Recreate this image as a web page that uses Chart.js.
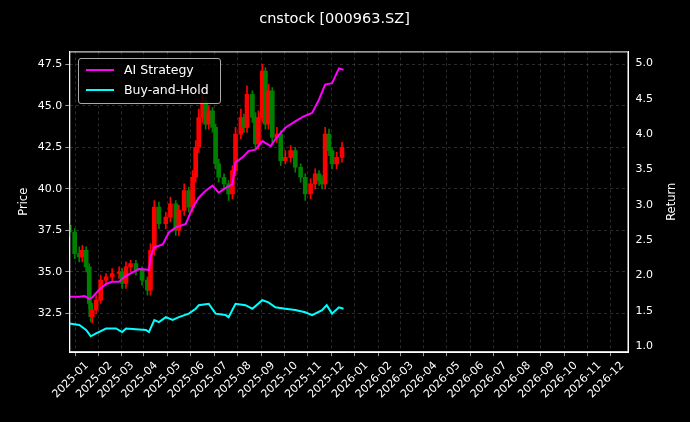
<!DOCTYPE html>
<html>
<head>
<meta charset="utf-8">
<script src="https://cdn.jsdelivr.net/npm/chart.js@4.4.0/dist/chart.umd.min.js"></script>
<style>
  html, body { margin: 0; padding: 0; background: #000; }
  #wrap { position: relative; width: 690px; height: 422px; }
  #legend {
    position: absolute; left: 78px; top: 58px; width: 143px; height: 46px;
    border: 1px solid #aaa; border-radius: 3px; background: rgba(0,0,0,0.8);
    font: 12.5px "DejaVu Sans", sans-serif; color: #fff; box-sizing: border-box;
  }
  .item { position: absolute; left: 7px; display: flex; align-items: center; }
  .item span { display: inline-block; width: 28px; height: 2px; margin-right: 10px; }
</style>
</head>
<body>
<div id="wrap">
  <canvas id="c" width="690" height="422"></canvas>
  <div id="legend">
    <div class="item" style="top:3px"><span style="background:#ff00ff"></span>AI Strategy</div>
    <div class="item" style="top:23px"><span style="background:#00ffff"></span>Buy-and-Hold</div>
  </div>
</div>
<script>
// days counted from 2024-12-09
const candleDays = [0,7,13,17,22,26,28,30,35,41,48,56,65,69,74,80,87,95,102,106,111,117,126,132,139,143,150,156,161,165,169,174,178,182,187,191,195,202,208,213,217,224,228,232,239,243,247,252,256,260,265,271,276,282,289,295,302,308,315,321,326,330,334,339,343,349,356];
const opens = [37.8,37.4,36.1,35.9,36.3,35.3,33.1,32.3,32.7,33.3,34.5,34.7,34.9,35.0,34.3,35.3,35.5,35.1,34.5,33.9,36.3,38.9,37.9,38.3,39.1,37.5,38.7,39.9,38.9,40.7,42.5,44.3,45.3,43.9,44.7,43.7,41.5,40.7,40.3,39.7,41.1,43.3,44.3,43.7,45.7,44.3,42.7,44.3,47.1,43.9,45.9,43.1,43.3,41.7,41.9,42.3,41.3,40.7,39.7,40.3,40.9,40.5,40.3,43.3,42.3,41.5,41.9];
const highs = [37.9,37.6,36.5,36.6,36.5,35.5,33.4,32.9,33.6,34.8,34.9,35.2,35.3,35.2,35.6,35.7,35.7,35.3,34.7,36.7,39.3,39.2,38.6,39.5,39.3,39.0,40.3,40.1,41.1,42.9,44.8,45.9,45.5,45.0,44.9,43.9,41.8,40.9,40.5,41.4,43.7,44.8,44.5,46.2,45.9,44.6,44.7,47.5,47.3,46.3,46.1,43.7,43.5,42.3,42.6,42.5,41.5,40.9,40.6,41.2,41.1,40.8,43.7,43.6,42.5,42.2,42.8];
const lows = [37.1,35.8,35.6,35.6,35.0,32.8,32.0,31.9,32.5,33.1,34.2,34.4,34.6,34.0,34.0,35.0,34.8,34.2,33.6,33.6,36.0,37.6,37.6,38.0,37.2,37.2,38.4,38.6,38.6,40.4,42.2,44.0,43.6,43.6,43.4,41.2,40.4,40.0,39.3,39.4,40.8,43.0,43.4,43.4,44.0,42.4,42.4,44.0,43.6,43.6,42.8,42.8,41.4,41.5,41.6,41.0,40.4,39.3,39.4,40.0,40.2,40.0,40.0,42.0,41.2,41.2,41.6];
const closes = [37.4,36.1,35.9,36.3,35.3,33.1,32.3,32.7,33.3,34.5,34.7,34.9,35.0,34.3,35.3,35.5,35.1,34.5,33.9,36.3,38.9,37.9,38.3,39.1,37.5,38.7,39.9,38.9,40.7,42.5,44.3,45.3,43.9,44.7,43.7,41.5,40.7,40.3,39.7,41.1,43.3,44.3,43.7,45.7,44.3,42.7,44.3,47.1,43.9,45.9,43.1,43.3,41.7,41.9,42.3,41.3,40.7,39.7,40.3,40.9,40.5,40.3,43.3,42.3,41.5,41.9,42.5];

const aiDays = [0,13,20,26,30,39,48,56,65,72,80,91,104,106,111,122,130,139,152,161,169,178,187,195,204,213,217,226,234,243,252,263,269,282,295,306,317,326,334,343,352,358];
const aiReturn = [1.70,1.70,1.71,1.67,1.69,1.80,1.88,1.91,1.91,1.98,2.03,2.09,2.08,2.26,2.40,2.44,2.61,2.68,2.73,2.96,3.10,3.20,3.27,3.17,3.24,3.29,3.60,3.67,3.76,3.78,3.90,3.83,3.93,4.09,4.18,4.25,4.30,4.49,4.70,4.72,4.93,4.91];

const bhDays = [0,13,22,28,35,48,61,69,74,87,100,104,111,117,126,135,143,156,165,169,182,191,204,208,217,230,239,252,260,269,282,295,308,317,330,336,343,352,358];
const bhReturn = [1.32,1.30,1.23,1.14,1.18,1.25,1.25,1.20,1.25,1.24,1.23,1.20,1.37,1.34,1.41,1.37,1.41,1.46,1.53,1.58,1.60,1.46,1.44,1.41,1.60,1.58,1.53,1.65,1.62,1.55,1.53,1.51,1.48,1.44,1.51,1.58,1.46,1.55,1.53];

const priceTicks = [32.5, 35.0, 37.5, 40.0, 42.5, 45.0, 47.5];
const returnTicks = [1.0, 1.5, 2.0, 2.5, 3.0, 3.5, 4.0, 4.5, 5.0];

const DAY = 86400000;
const base = Date.UTC(2024, 11, 9);
const t = d => base + d * DAY;

const monthTicks = [];
for (let m = 0; m < 24; m++) monthTicks.push(Date.UTC(2025 + Math.floor(m / 12), m % 12, 1));

const upColor = '#ff0000', downColor = '#008000';
const candleColors = closes.map((c, i) => c >= opens[i] ? upColor : downColor);

Chart.defaults.font.family = '"DejaVu Sans", sans-serif';
Chart.defaults.color = '#fff';

const gridStyle = { color: 'rgba(128,128,128,0.55)', lineWidth: 0.6, tickColor: '#fff', tickLength: 4, drawTicks: true };

new Chart(document.getElementById('c'), {
  type: 'bar',
  data: {
    datasets: [{
      type: 'line', label: 'AI Strategy', yAxisID: 'y2', order: 0,
      data: aiDays.map((d, i) => ({ x: t(d), y: aiReturn[i] })),
      borderColor: '#ff00ff', borderWidth: 2, pointRadius: 0, tension: 0
    }, {
      type: 'line', label: 'Buy-and-Hold', yAxisID: 'y2', order: 0,
      data: bhDays.map((d, i) => ({ x: t(d), y: bhReturn[i] })),
      borderColor: '#00ffff', borderWidth: 2, pointRadius: 0, tension: 0
    }, {
      label: 'wick', yAxisID: 'y', order: 2, grouped: false,
      data: candleDays.map((d, i) => ({ x: t(d), y: [lows[i], highs[i]] })),
      backgroundColor: candleColors, barThickness: 1
    }, {
      label: 'body', yAxisID: 'y', order: 1, grouped: false,
      data: candleDays.map((d, i) => ({ x: t(d), y: [opens[i], closes[i]] })),
      backgroundColor: candleColors, barThickness: 4, minBarLength: 1
    }]
  },
  options: {
    responsive: false,
    animation: false,
    layout: { padding: { left: 13, right: 34, top: 11, bottom: 18 } },
    plugins: {
      legend: { display: false },
      tooltip: { enabled: false },
      title: { display: true, text: 'cnstock [000963.SZ]', font: { size: 14.5, weight: 'normal' }, padding: { top: 0, bottom: 23 } }
    },
    scales: {
      x: {
        type: 'linear', offset: false,
        min: base, max: Date.UTC(2026, 11, 9),
        afterBuildTicks: ax => { ax.ticks = monthTicks.map(v => ({ value: v })); },
        ticks: {
          minRotation: 45, maxRotation: 45, font: { size: 11 },
          callback: v => { const d = new Date(v); return d.getUTCFullYear() + '-' + String(d.getUTCMonth() + 1).padStart(2, '0'); }
        },
        grid: gridStyle, border: { color: '#fff', width: 1, dash: [3, 3] }
      },
      y: {
        position: 'left', min: 30.16, max: 48.28,
        afterBuildTicks: ax => { ax.ticks = priceTicks.map(v => ({ value: v })); },
        ticks: { font: { size: 11 }, callback: v => v.toFixed(1) },
        title: { display: true, text: 'Price', font: { size: 11.5 } },
        grid: gridStyle, border: { color: '#fff', width: 1, dash: [3, 3] }
      },
      y2: {
        position: 'right', min: 0.915, max: 5.17,
        afterBuildTicks: ax => { ax.ticks = returnTicks.map(v => ({ value: v })); },
        ticks: { font: { size: 11 }, callback: v => v.toFixed(1) },
        grid: { display: false, tickColor: '#fff', tickLength: 4 }, border: { color: '#fff', width: 1 }
      }
    }
  },
  plugins: [{
    id: 'frame',
    beforeDraw: chart => {
      const ctx = chart.ctx;
      ctx.save(); ctx.fillStyle = '#000'; ctx.fillRect(0, 0, chart.width, chart.height); ctx.restore();
    },
    afterDraw: chart => {
      const { ctx, chartArea: a } = chart;
      ctx.save();
      ctx.strokeStyle = '#fff'; ctx.lineWidth = 1;
      ctx.strokeRect(a.left + 0.5, a.top + 0.5, a.right - a.left - 1, a.bottom - a.top - 1);
      ctx.fillStyle = '#fff'; ctx.font = '11.5px "DejaVu Sans", sans-serif';
      ctx.textAlign = 'center'; ctx.textBaseline = 'middle';
      ctx.translate(672, (a.top + a.bottom) / 2); ctx.rotate(-Math.PI / 2);
      ctx.fillText('Return', 0, 0);
      ctx.restore();
    }
  }]
});
</script>
</body>
</html>
